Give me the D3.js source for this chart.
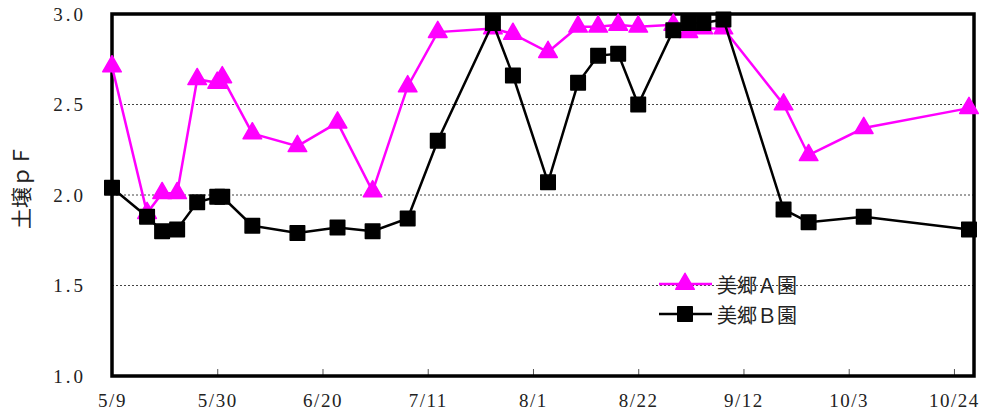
<!DOCTYPE html>
<html>
<head>
<meta charset="utf-8">
<script src="https://cdn.jsdelivr.net/npm/d3@7"></script>
<style>
  body { margin: 0; background: #fff; }
  svg { display: block; }
</style>
</head>
<body>
<div id="chart"></div>
<script>
// sampling dates (month/day) shared by both orchards
var sampleDates = ["5/9","5/16","5/19","5/22","5/26","5/30","5/31","6/6","6/15","6/23",
  "6/30","7/7","7/13","7/24","7/28","8/4","8/10","8/14","8/18","8/22",
  "8/29","9/1","9/4","9/8","9/20","9/25","10/6","10/27"];

// soil pF, orchard A (magenta triangles)
var valuesA = [2.71,1.90,2.01,2.01,2.64,2.62,2.65,2.34,2.27,2.40,
  2.02,2.60,2.90,2.92,2.89,2.79,2.93,2.93,2.94,2.93,
  2.94,2.90,2.92,2.92,2.50,2.22,2.37,2.48];

// soil pF, orchard B (black squares)
var valuesB = [2.04,1.88,1.80,1.81,1.96,1.99,1.99,1.83,1.79,1.82,
  1.80,1.87,2.30,2.95,2.66,2.07,2.62,2.77,2.78,2.50,
  2.91,2.95,2.95,2.97,1.92,1.85,1.88,1.81];

var xTickLabels = ["5/9","5/30","6/20","7/11","8/1","8/22","9/12","10/3","10/24"];
var yTickValues = [1.0, 1.5, 2.0, 2.5, 3.0];
var gridValues = [1.5, 2.0, 2.5];
var xStart = "5/9", xEnd = "10/28";

var seriesNames = ["美郷Ａ園", "美郷Ｂ園"];
var yTitle = "土壌ｐＦ";

var parse = function(s) { return d3.timeParse("%Y/%m/%d")("2009/" + s); };

var W = 986, H = 418;
var plot = {left: 112, right: 974, top: 14, bottom: 376};

var svg = d3.select("#chart").append("svg")
  .attr("width", W)
  .attr("height", H);

var x = d3.scaleTime()
  .domain([parse(xStart), parse(xEnd)])
  .range([plot.left, plot.right]);

var y = d3.scaleLinear()
  .domain([1, 3])
  .range([plot.bottom, plot.top]);

var serifFont = "'Liberation Serif', 'DejaVu Serif', serif";

// dotted grid lines
svg.append("g").selectAll("line")
  .data(gridValues)
  .enter().append("line")
  .attr("x1", plot.left).attr("x2", plot.right)
  .attr("y1", function(d) { return y(d); })
  .attr("y2", function(d) { return y(d); })
  .attr("stroke", "#444")
  .attr("stroke-width", 1)
  .attr("stroke-dasharray", "2,2");

// x axis: inward ticks, labels below
var xAxis = svg.append("g")
  .attr("transform", "translate(0," + plot.bottom + ")")
  .call(d3.axisBottom(x)
    .tickValues(xTickLabels.map(parse))
    .tickFormat(d3.timeFormat("%-m/%-d"))
    .tickSizeInner(-7)
    .tickSizeOuter(0)
    .tickPadding(18));
xAxis.select(".domain").remove();
xAxis.selectAll(".tick line").attr("stroke", "#555");
xAxis.selectAll("text")
  .attr("font-family", serifFont)
  .attr("font-size", 19)
  .attr("letter-spacing", 1.5)
  .attr("fill", "#222");

// y axis: labels only
var yAxis = svg.append("g")
  .attr("transform", "translate(" + plot.left + ",0)")
  .call(d3.axisLeft(y)
    .tickValues(yTickValues)
    .tickFormat(d3.format(".1f"))
    .tickSize(0)
    .tickPadding(26));
yAxis.select(".domain").remove();
yAxis.selectAll("text")
  .attr("font-family", serifFont)
  .attr("font-size", 19)
  .attr("letter-spacing", 3)
  .attr("fill", "#222");

// y title
svg.append("text")
  .attr("transform", "translate(20,187) rotate(-90)")
  .attr("text-anchor", "middle")
  .attr("dominant-baseline", "central")
  .attr("font-family", "'Noto Sans CJK JP', sans-serif")
  .attr("font-size", 21)
  .attr("fill", "#222")
  .text(yTitle);

// plot frame
svg.append("rect")
  .attr("x", plot.left).attr("y", plot.top)
  .attr("width", plot.right - plot.left).attr("height", plot.bottom - plot.top)
  .attr("fill", "none")
  .attr("stroke", "#000")
  .attr("stroke-width", 3.5);

var dataA = sampleDates.map(function(d, i) { return { date: parse(d), value: valuesA[i] }; });
var dataB = sampleDates.map(function(d, i) { return { date: parse(d), value: valuesB[i] }; });

var line = d3.line()
  .x(function(d) { return x(d.date); })
  .y(function(d) { return y(d.value); });

var triangle = d3.symbol().type(d3.symbolTriangle).size(150);
var square = d3.symbol().type(d3.symbolSquare).size(210);

function drawSeries(data, color, shape) {
  svg.append("path")
    .datum(data)
    .attr("fill", "none")
    .attr("stroke", color)
    .attr("stroke-width", 2.5)
    .attr("d", line);
  svg.append("g").selectAll("path")
    .data(data)
    .enter().append("path")
    .attr("transform", function(d) { return "translate(" + x(d.date) + "," + y(d.value) + ")"; })
    .attr("d", shape)
    .attr("fill", color)
    .attr("stroke", color)
    .attr("stroke-width", 1.5)
    .attr("stroke-linejoin", "round");
}

drawSeries(dataA, "#ff00ff", triangle);
drawSeries(dataB, "#000000", square);

// legend
var legendRows = [
  { name: seriesNames[0], color: "#ff00ff", shape: triangle, y: 284 },
  { name: seriesNames[1], color: "#000000", shape: square, y: 314 }
];
var legend = svg.append("g");
legendRows.forEach(function(r) {
  legend.append("line")
    .attr("x1", 659).attr("x2", 712)
    .attr("y1", r.y).attr("y2", r.y)
    .attr("stroke", r.color)
    .attr("stroke-width", 2.5);
  legend.append("path")
    .attr("transform", "translate(685," + r.y + ")")
    .attr("d", r.shape)
    .attr("fill", r.color)
    .attr("stroke", r.color)
    .attr("stroke-width", 1.5)
    .attr("stroke-linejoin", "round");
  legend.append("text")
    .attr("x", 717)
    .attr("y", r.y)
    .attr("dominant-baseline", "central")
    .attr("font-family", "'Noto Sans CJK JP', sans-serif")
    .attr("font-size", 20)
    .attr("fill", "#222")
    .text(r.name);
});
</script>
</body>
</html>
